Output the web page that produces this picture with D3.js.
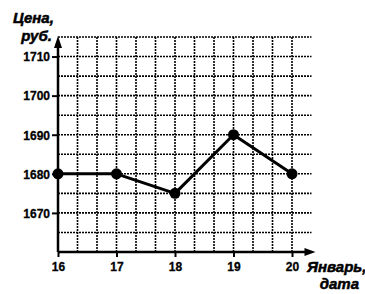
<!DOCTYPE html>
<html>
<head>
<meta charset="utf-8">
<script src="https://cdn.jsdelivr.net/npm/d3@7"></script>
<style>
  body { margin: 0; background: #fff; }
  text { font-family: "Liberation Sans", Arial, sans-serif; }
</style>
</head>
<body>
<div id="chart"></div>
<script>
// data
var days = [16, 17, 18, 19, 20];
var prices = [1680, 1680, 1675, 1690, 1680];
var yTicks = [1670, 1680, 1690, 1700, 1710];

var width = 365, height = 294;

var svg = d3.select("#chart")
  .append("svg")
    .attr("width", width)
    .attr("height", height);

// scales
var x = d3.scaleLinear()
  .domain([16, 20])
  .range([58, 292]);

var y = d3.scaleLinear()
  .domain([1660, 1715])
  .range([252, 37]);

var xMax = 20 + 1 / 3;

// dotted grid: 3 cells per day, 2 cells per 10 rub
var gridX = d3.range(1, 13).map(function(i) { return 16 + i / 3; });
var gridY = d3.range(1665, 1716, 5);

var grid = svg.append("g")
  .attr("stroke", "#000")
  .attr("stroke-width", 1.6)
  .attr("stroke-dasharray", "2,1");

grid.selectAll("vline")
  .data(gridX)
  .enter()
  .append("line")
    .attr("x1", function(d) { return x(d); })
    .attr("x2", function(d) { return x(d); })
    .attr("y1", y(1715))
    .attr("y2", y(1660));

grid.selectAll("hline")
  .data(gridY)
  .enter()
  .append("line")
    .attr("x1", x(16))
    .attr("x2", x(xMax))
    .attr("y1", function(d) { return y(d); })
    .attr("y2", function(d) { return y(d); });

// axes
var xAxis = svg.append("g")
  .attr("transform", "translate(0," + y(1660) + ")")
  .call(d3.axisBottom(x).tickValues(days).tickSize(5).tickPadding(5).tickFormat(d3.format("d")));

var yAxis = svg.append("g")
  .attr("transform", "translate(" + x(16) + ",0)")
  .call(d3.axisLeft(y).tickValues(yTicks).tickSize(6).tickPadding(2).tickFormat(d3.format("d")));

[xAxis, yAxis].forEach(function(a) {
  a.select(".domain").remove();
  a.selectAll(".tick line").attr("stroke", "#000").attr("stroke-width", 2);
  a.selectAll(".tick text")
    .attr("fill", "#000")
    .attr("stroke", "#000")
    .attr("stroke-width", 0.3)
    .style("font-size", "12px")
    .style("font-weight", "bold");
});
yAxis.selectAll(".tick text").attr("dy", "0.36em");

// axis lines with arrows
svg.append("line")
  .attr("x1", x(16)).attr("x2", x(xMax) - 2)
  .attr("y1", y(1660)).attr("y2", y(1660))
  .attr("stroke", "#000").attr("stroke-width", 2.5);

svg.append("line")
  .attr("x1", x(16)).attr("x2", x(16))
  .attr("y1", y(1660)).attr("y2", y(1715) + 6)
  .attr("stroke", "#000").attr("stroke-width", 2.5);

svg.append("path")
  .attr("d", "M" + (x(xMax) + 4) + "," + y(1660) +
             "L" + (x(xMax) - 7) + "," + (y(1660) - 4) +
             "L" + (x(xMax) - 7) + "," + (y(1660) + 4) + "Z")
  .attr("fill", "#000");

svg.append("path")
  .attr("d", "M" + x(16) + "," + (y(1715) - 1) +
             "L" + (x(16) - 4) + "," + (y(1715) + 11) +
             "L" + (x(16) + 4) + "," + (y(1715) + 11) + "Z")
  .attr("fill", "#000");

// price line
var line = d3.line()
  .x(function(d, i) { return x(days[i]); })
  .y(function(d) { return y(d); });

svg.append("path")
  .datum(prices)
  .attr("d", line)
  .attr("fill", "none")
  .attr("stroke", "#000")
  .attr("stroke-width", 3)
  .attr("stroke-linejoin", "round");

svg.selectAll("myDots")
  .data(prices)
  .enter()
  .append("circle")
    .attr("cx", function(d, i) { return x(days[i]); })
    .attr("cy", function(d) { return y(d); })
    .attr("r", 5.5)
    .attr("fill", "#000");

// axis titles
function title(txt, px, py, anchor) {
  svg.append("text")
    .attr("x", px)
    .attr("y", py)
    .attr("text-anchor", anchor)
    .attr("stroke", "#000")
    .attr("stroke-width", 0.5)
    .style("font-size", "15px")
    .style("font-weight", "bold")
    .style("font-style", "italic")
    .text(txt);
}
title("Цена,", 13, 23, "start");
title("руб.", 52, 41, "end");
title("Январь,", 307, 272, "start");
title("дата", 359, 289, "end");
</script>
</body>
</html>
